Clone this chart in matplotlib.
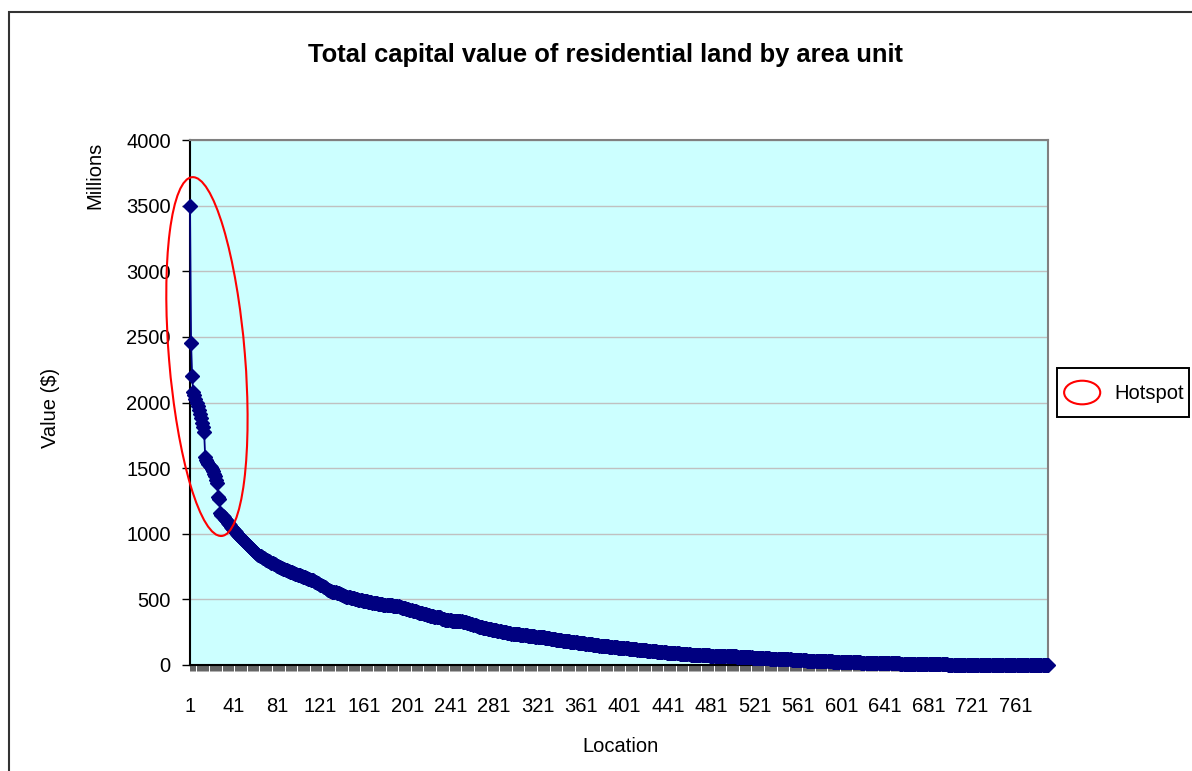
import numpy as np
import matplotlib
matplotlib.use("Agg")
import matplotlib.pyplot as plt
from matplotlib.patches import Ellipse, Rectangle
from matplotlib.legend_handler import HandlerPatch
import matplotlib.transforms as mtransforms

plt.rcParams['font.family'] = ['Liberation Sans', 'DejaVu Sans']

# ---------------- data (values in $ millions) ----------------
hotspot_values = [
    3500, 2450, 2200, 2080, 2055, 2030, 2000, 1970, 1940, 1910,
    1880, 1845, 1810, 1775, 1585, 1565, 1550, 1535, 1520, 1505,
    1490, 1475, 1455, 1440, 1410, 1390, 1280, 1265, 1160, 1145,
]
upper_values = [
    1135, 1125, 1115, 1105, 1095, 1085, 1075, 1065, 1055, 1045,
    1035, 1022, 1010, 1000,
    992, 984, 975, 967, 958, 950, 942, 934, 926, 918,
    910, 902, 894, 886, 878, 870, 862, 855, 847, 840, 832,
    827, 822, 817, 812, 808, 803, 798, 793, 789, 784,
    780, 775, 771, 766, 761, 757, 752, 748, 743,
    740, 736, 733, 729, 726, 723, 719, 716, 712, 709,
    706, 702, 699, 695, 692,
    689, 686, 682, 679, 676, 673, 670, 667, 663, 660,
    657, 654, 651, 647, 644, 641,
    636, 632, 627, 622, 617, 612, 607, 602, 597, 591,
    586, 580, 575, 570, 565,
    562, 560, 558, 556, 553, 551, 549, 546, 543, 539,
    535, 531, 527, 524, 521,
    519, 517, 515, 513, 511, 509, 507, 505, 503, 501,
    499, 497, 495, 493, 491, 489,
    487, 486, 484, 482, 481, 479, 477, 476, 474, 472,
    471, 469, 467, 465, 463,
    462, 461, 460, 460, 459, 458, 457, 456, 455, 455,
    454, 453, 452, 451, 451,
    448, 446, 443, 441, 438, 436, 433, 431, 429, 427,
    424, 422, 420, 418, 415, 413,
    410, 408, 405, 403, 400, 398, 395, 393, 390, 388,
    385, 383, 380, 378, 375,
    374, 372, 371, 369, 368, 367, 365, 364, 363, 358,
    354, 351, 348, 345, 343,
    342, 341, 340, 340, 339, 338, 337, 336, 336, 335,
    334, 333, 332, 332, 331, 330,
    327, 325, 322, 320, 317, 314, 312, 309, 306, 304,
    301, 299, 296, 293, 291, 288, 286, 284,
]
middle_values = [
    282, 281, 279, 277, 276, 274, 272, 270, 269, 267,
    265, 264, 262, 260, 259, 257, 255, 253, 252, 250,
    248, 247, 245, 243, 241,
    240, 239, 238, 237, 236, 235, 234, 233, 232, 231,
    230, 229, 227, 226, 225, 224, 222, 221, 220, 219,
    218, 218, 217, 217, 217, 216, 216,
    214, 213, 211, 210, 208, 207, 205, 204, 202, 201,
    199, 198, 197, 195, 194, 192, 191, 189, 188, 187,
    186, 185,
    184, 183, 182, 181, 180, 179, 178, 177, 175, 174,
    173, 172, 171, 170, 169, 168, 167, 166, 165, 163,
    162, 161, 160, 159, 158, 157, 156, 155, 153, 152, 150,
    149, 148, 147, 146, 146, 145, 144, 143, 142, 141,
    140, 139, 139, 138, 137, 136, 135, 134, 133, 133,
    132, 131, 130, 129, 128, 127, 127, 126, 125, 124,
    123, 122, 121, 120, 120, 119, 118, 117, 116, 115,
    114, 113, 113, 112, 111, 110, 109, 108, 107, 106,
    106, 105, 104, 103, 102, 101, 100, 100, 99, 98,
    97, 97, 96, 95, 95, 94, 93, 93, 92, 91,
    91, 90, 89, 89, 88, 87, 87, 86, 85, 84,
    84, 83, 82, 82, 81, 80, 80, 79, 78, 78,
    77, 76,
    76, 76, 75, 75, 75, 74, 74, 74, 73, 73,
    73, 72, 72, 72, 71, 71, 71, 70, 70, 70,
    70, 69, 69, 69, 69, 68, 68, 68, 68,
]
tail_values = [
    68, 67, 67, 66, 66, 65, 65, 64, 64, 63,
    63, 62, 62, 61, 61, 60, 60, 59, 59, 58,
    58, 57, 57, 56, 56,
    55, 55, 54, 54, 53, 53, 52, 52, 51, 51,
    50, 50, 49, 49, 48, 48, 47, 47, 46, 46,
    45, 45, 45, 44, 44, 44, 43, 43, 43, 42,
    42, 42, 41, 41, 41, 40, 40, 39, 39,
    38, 37, 37, 36, 36, 35, 35, 34, 34, 33,
    33, 32, 32, 32, 31, 31, 31, 30, 30, 30,
    29, 29, 29, 28, 28, 28, 28, 27, 27, 27,
    27, 26, 26, 26, 26, 25, 25, 25, 25, 25, 24,
    24, 24, 23, 23, 23, 22, 22, 22, 21, 21,
    21, 21, 20, 20, 20, 20, 19, 19, 19, 19,
    18, 18, 18, 18, 17, 17, 17, 17, 16, 16,
    16, 16, 16, 15, 15, 15, 15, 14, 14, 14,
    14, 14, 13, 13, 13, 13, 13, 12, 12, 12,
    12, 12, 11, 11, 11, 11, 11, 10, 10, 10,
    10, 10, 9, 9,
    8, 8, 8, 7, 7, 7, 7, 7, 6, 6,
    6, 6, 6, 6, 5, 5, 5, 5, 5, 5,
    5, 5, 4, 4, 4, 4, 4, 4, 4, 4,
    4, 4, 3, 3, 3, 3, 3, 3, 3, 3,
    3, 3, 3, 3, 3, 2, 2, 2, 2, 2,
    2, 2, 2, 2, 2, 2, 2, 2, 2, 2,
    2, 2, 2, 1, 1, 1, 1, 1, 1, 1,
    1, 1, 1, 1, 1, 1, 1, 1, 1, 1,
    1, 1, 1, 1, 1, 1, 1, 1, 1, 1,
    1, 1, 1, 1, 1, 1, 1, 0.5, 0.5, 0.5,
    0.5, 0.5, 0.5, 0.5, 0.5, 0.5, 0.5, 0.5, 0.5, 0.5,
    0.5, 0.5, 0.3, 0.3, 0.3, 0.3, 0.3, 0.3, 0.2, 0.2,
    0.2, 0.2, 0.1, 0.1, 0.1,
]
values = hotspot_values + upper_values + middle_values + tail_values
locations = np.arange(1, len(values) + 1)

x_tick_positions = list(range(1, 762, 40))
x_tick_labels = [str(v) for v in x_tick_positions]
y_ticks = list(range(0, 4001, 500))

title = "Total capital value of residential land by area unit"
legend_label = "Hotspot"
hotspot_center = (16.6, 2350)   # location index, value

# ---------------- figure ----------------
W, H = 1192, 771
fig = plt.figure(figsize=(W / 100, H / 100), dpi=100)
fig.patch.set_facecolor('white')

# outer chart-area border (left & top visible)
fig.add_artist(Rectangle((8.5 / W, -0.2), 1.5, 1 - 11.5 / H + 0.2,
                         transform=fig.transFigure, fill=False,
                         ec='#333333', lw=1.5, zorder=0))

ax = fig.add_axes([190 / W, 106 / H, 858 / W, 525 / H])
ax.set_facecolor('#CCFFFF')

ax.plot(locations, values, color='#000080', lw=1.3, marker='D', ms=7,
        mfc='#000080', mec='#000080', zorder=3, clip_on=False)

ax.set_xlim(1, len(values))
ax.set_ylim(0, 4000)
ax.set_yticks(y_ticks)
ax.set_yticklabels([str(v) for v in y_ticks])
ax.yaxis.grid(True, color='#C0C0C0', lw=1.0)
ax.set_axisbelow(True)

ax.set_xticks(x_tick_positions)
ax.set_xticklabels(x_tick_labels)
ax.set_xticks(locations, minor=True)
ax.tick_params(axis='x', which='both', direction='out', length=4.3,
               width=0.5, color='#222222', pad=19, labelsize=14.5)
ax.tick_params(axis='y', which='major', direction='out', length=5.8,
               width=1.0, color='black', pad=8, labelsize=14.5)

for side in ['left', 'bottom']:
    ax.spines[side].set_color('black')
    ax.spines[side].set_linewidth(1.5)
for side in ['top', 'right']:
    ax.spines[side].set_color('#808080')
    ax.spines[side].set_linewidth(1.5)

# hotspot ellipse (size in inches, centred on data position)
trans = fig.dpi_scale_trans + mtransforms.ScaledTranslation(
    hotspot_center[0], hotspot_center[1], ax.transData)
hot = Ellipse((0, 0), width=0.76, height=3.60, angle=4.7, transform=trans,
              fill=False, ec='#FF0000', lw=1.5, zorder=5)
fig.add_artist(hot)

# texts
fig.text(605 / W, 1 - 55 / H, title, ha='center', va='center',
         fontsize=18.4, fontweight='bold')
fig.text(50 / W, 1 - 408 / H, 'Value ($)', rotation=90, ha='center',
         va='center', fontsize=14.5)
fig.text(95 / W, 1 - 175 / H, 'Millions', rotation=90, ha='center',
         va='center', fontsize=14.5)
fig.text(620 / W, 1 - 746 / H, 'Location', ha='center', va='center',
         fontsize=14.5)

# legend
def make_ellipse(legend, orig_handle, xdescent, ydescent, width, height, fontsize):
    return Ellipse((-xdescent + width / 2, -ydescent + height / 2),
                   width=26, height=17)

handle = Ellipse((0, 0), 1, 1, fc='none', ec='#FF0000', lw=1.5)
leg = fig.legend([handle], [legend_label], loc='upper left',
                 bbox_to_anchor=(1057 / W, 1 - 368 / H),
                 bbox_transform=fig.transFigure, borderaxespad=0,
                 borderpad=0.25, handlelength=2.0, handleheight=2.6,
                 handletextpad=0.6, fontsize=14.5, frameon=True,
                 fancybox=False, framealpha=1, edgecolor='black',
                 handler_map={Ellipse: HandlerPatch(patch_func=make_ellipse)})
leg.get_frame().set_linewidth(1.4)

fig.savefig('out.png', dpi=100)
